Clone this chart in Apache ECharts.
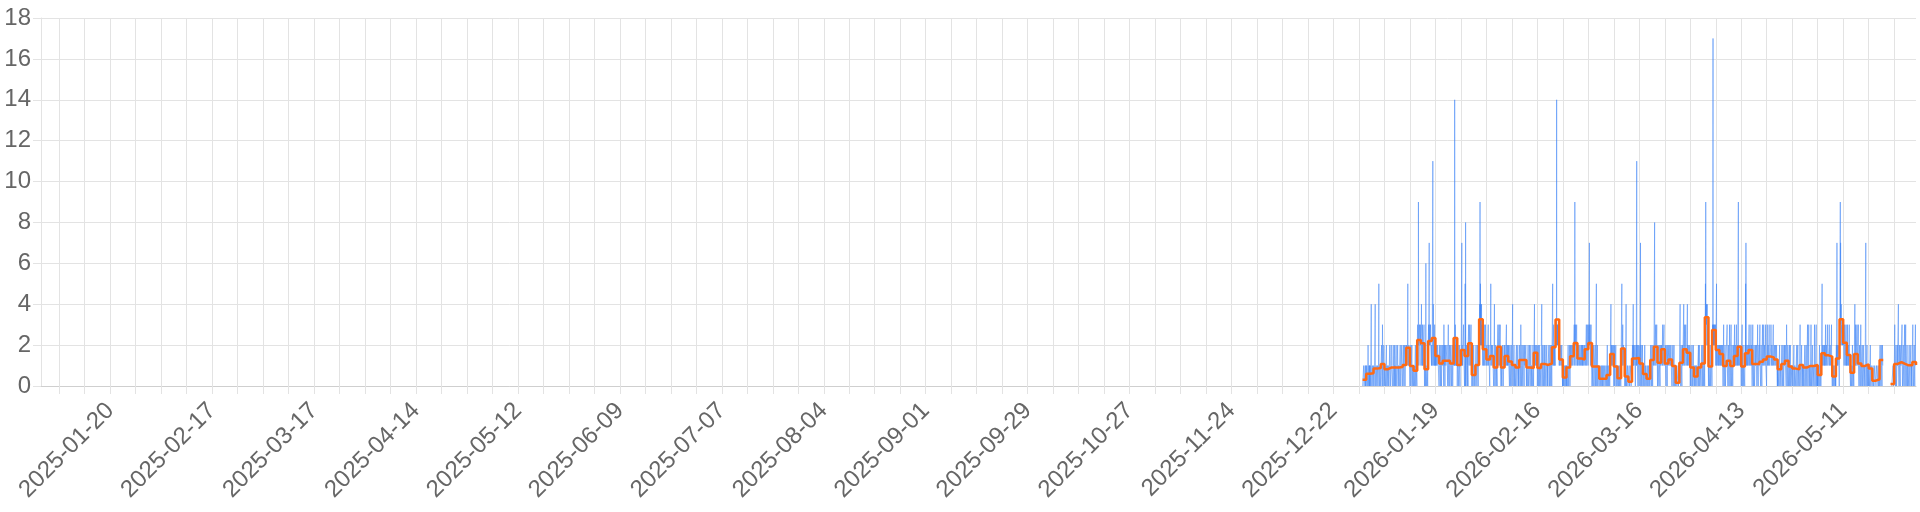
<!DOCTYPE html>
<html>
<head>
<meta charset="utf-8">
<script src="https://cdn.jsdelivr.net/npm/echarts@6/dist/echarts.min.js"></script>
<style>
html,body{margin:0;padding:0;background:#fff;}
#c{width:1920px;height:512px;}
</style>
</head>
<body>
<div id="c"></div>
<script>
// ---- DATA ----
const axisStart = '2025-01-01';
const axisEnd = '2026-05-31';
const firstWeekTick = '2025-01-06';
const lastWeekTick = '2026-05-25';
const xLabelDates = ['2025-01-20','2025-02-17','2025-03-17','2025-04-14','2025-05-12','2025-06-09','2025-07-07','2025-08-04','2025-09-01','2025-09-29','2025-10-27','2025-11-24','2025-12-22','2026-01-19','2026-02-16','2026-03-16','2026-04-13','2026-05-11'];
const yTicks = [0,2,4,6,8,10,12,14,16,18];
const dataStart = '2025-12-30';

// daily mean (orange step line), one value per day from dataStart
const dailyMean = [
0.3,0.6,0.62,0.85,0.88,1.07,0.82,0.91,0.91,0.91,
0.93,1.03,1.87,0.98,0.75,2.25,2.09,0.82,2.2,2.35,
1.47,1.1,1.24,1.24,1.1,2.35,1.03,1.76,1.47,2.09,
0.54,1.03,3.26,1.8,1.3,1.47,0.9,1.92,0.9,1.47,
1.2,1.03,0.9,1.27,1.27,0.9,0.88,1.63,0.88,1.08,
1.03,1.1,1.9,3.25,1.3,0.42,0.9,1.45,2.1,1.35,
1.3,1.8,2.1,0.95,0.95,0.35,0.35,0.54,1.57,0.95,
0.38,1.83,0.46,0.21,1.34,1.37,1.1,0.59,0.36,1.27,
1.92,1.14,1.8,1.1,1.3,0.98,0.16,1.14,1.8,1.63,
0.9,0.46,0.9,1.1,3.36,0.95,2.74,1.76,1.57,0.98,
1.24,0.98,1.47,1.92,0.95,1.6,1.76,1.08,1.08,1.19,
1.3,1.44,1.4,1.3,0.82,1.08,1.24,0.95,0.85,0.82,
1.03,0.9,0.98,0.98,1.03,0.54,1.6,1.5,1.44,0.46,
1.35,3.26,2.12,1.52,0.65,1.57,1.1,0.98,1.06,0.86,
0.26,0.33,1.27,null,null,0.1,1.08,1.17,1.08,1.01,
1.01,1.17,1.03
];

// hourly counts (blue line): one string per day, one character per hour (base-36 digit, '-' = no data)
const hourlyCounts = [
"000000011100000001100010","000111100001210000111010","001110000411100000111000","011100011114110000111100","001111000115111000111110",
"011112111003211011112110","001111100111121000111110","011110001112111000111211","111100011122100011120111","001112111000111211100111",
"110011112110001111211100","011112110111121100111211","122221112252221112222111","011111200111121100011111","001111100111210001111100",
"222322219322222322212322","222342122213222112222322","000111100611110001111000","222322272223222232222212","2212222b2142222212231222",
"112221112221111222211111","011121111011211101112111","111211103111211011122111","111122111011131110111221","011112211101111211001112",
"2212212e2213222122212212","011112111001112111011111","112222712221112223222111","011250182011112111021110","222322122232221222232122",
"000111100001211000011100","011121111001121111001112","323343923524323342322323","122222112232211222322211","111221111122311112211101",
"111225111122211112221111","001114110011121100111110","122232112222321122232221","011111001112111000111211","112221111222311112211121",
"111211110112211101112211","011114111001112110011111","001111211000111211101110","111221110113211101122111","011222111011221111112211",
"011111001112110001112111","001112110011111000121110","112224112221111222211121","001111210011121000111110","011114110111211100111211",
"011211110011112110111101","111121110111211101112110","122225112222312122222211","3233323e3323332332332333","111221111122211112211101",
"000111000011100000111010","011111001112110001111210","112221111222111122211111","222322192223222122232222","111221111122211111221111",
"111211112112221111122111","122222112223211222322211","222322272223221222322212","011111101112210011111210","011115100111210001111110",
"000011100000011100001100","000111000000111000000110","000112100011110000111000","112224112221112222111211","011121100111121100111110",
"000011100001110000011100","122225112223211222222211","000111000411000000111000","000001100000000011000000","111221114122211111221101",
"1112111b1112111011211110","011121117011211100111211","000111100011210000111100","000011100000111000001100","111221110112211101122111",
"122228112222321122232221","011121111011211110111211","112222212232212222232211","111121110111121101112111","111221111122211112211110",
"011112110011121110011111","000000110000000001000000","011114111011211110111211","122224112223211222322211","112224112221111222211121",
"011111001112110001112111","000111000011100001111000","001111201111210000111110","111121110111211101112110","323353933234333343323333",
"011111101112110011112110","222322h22322232222322322","122225112222211222221211","112222112221112222111211","011131110011121100111111",
"111311110112211101132111","011113110011211100111121","112231111222111132211121","122229112222211122222211","011111301111210001111110",
"112215172211112221111211","122232111222211232221211","011131111011211100111211","111121100111311101111211","111311110112211101113211",
"111231111122211113111110","112231111222111132211111","111232111122211112231111","111221111122211112211101","001111100111121000111110",
"011121111011211100111211","111211110113211101122111","011111201111210001111110","011111001112110001111110","001111200111121000111110",
"011131111001112111011111","011111001112110001112111","011113110011131110011111","011131100111121100111111","011311110011113110111101",
"000111100011210000111000","112225111222111122211121","112231111222111132221111","111232111122211112231111","000111000011100000111010",
"111221171122211111221101","323339373234333332323333","222322122232221222232122","112232111222111132221111","000111100011121000111100",
"112224111232111122231111","111131110111211101113110","011112110011121110011111","011117110011121100111110","011111001112110001111110",
"000001110000000011000000","000011100000001110000010","111221110112211101122111","------------------------","------------------------",
"--------0000000001100000","011131111011211100111211","111141110112111101112111","111131100111211101111311","011131110011121100111111",
"011211110011112110111101","111311110111211101113111","1"
];

// ---- BUILD ----
const DAY = 86400000, HOUR = 3600000;
function ts(s){ const p = s.split('-').map(Number); return Date.UTC(p[0], p[1]-1, p[2]); }
function fmt(t){ const d = new Date(t); const p = n => String(n).padStart(2,'0'); return d.getUTCFullYear()+'-'+p(d.getUTCMonth()+1)+'-'+p(d.getUTCDate()); }

const t0 = ts(dataStart);
const weekTicks = [];
for (let t = ts(firstWeekTick); t <= ts(lastWeekTick); t += 7*DAY) weekTicks.push(t);
const labelTicks = xLabelDates.map(ts);

const hourlyData = [];
hourlyCounts.forEach((s, d) => {
  s.slice(0,24).split('').forEach((c, h) => {
    hourlyData.push([t0 + d*DAY + h*HOUR, c === '-' ? null : parseInt(c, 36)]);
  });
});
const dailyData = dailyMean.map((v, d) => [t0 + d*DAY, v]);

const FONT = "'Liberation Sans', Arial, Helvetica, sans-serif";
const GRID = '#e3e3e3';

const chart = echarts.init(document.getElementById('c'), null, {renderer: 'canvas'});
chart.setOption({
  animation: false,
  backgroundColor: '#fff',
  grid: {left: 41, right: 4, top: 18, bottom: 126, containLabel: false, outerBoundsMode: 'none'},
  xAxis: {
    type: 'value',
    min: ts(axisStart),
    max: ts(axisEnd),
    axisLine: {show: true, lineStyle: {color: '#cfcfcf', width: 1}},
    axisTick: {show: true, length: 8, customValues: weekTicks, lineStyle: {color: GRID}},
    splitLine: {show: true, lineStyle: {color: GRID, width: 1}},
    axisLabel: {
      customValues: labelTicks,
      rotate: 45,
      margin: 21,
      color: '#666',
      fontSize: 24,
      fontFamily: FONT,
      formatter: v => fmt(v)
    }
  },
  yAxis: {
    type: 'value',
    min: yTicks[0],
    max: yTicks[yTicks.length-1],
    interval: yTicks[1]-yTicks[0],
    axisLine: {show: true, lineStyle: {color: GRID}},
    axisTick: {show: true, length: 8, lineStyle: {color: GRID}},
    splitLine: {show: true, lineStyle: {color: GRID, width: 1}},
    axisLabel: {margin: 10, color: '#666', fontSize: 24, fontFamily: FONT}
  },
  series: [
    {
      type: 'line',
      data: hourlyData,
      showSymbol: false,
      symbol: 'none',
      sampling: null,
      connectNulls: false,
      lineStyle: {color: '#3b82f6', width: 0.7, opacity: 0.75},
      z: 2,
      silent: true
    },
    {
      type: 'line',
      data: dailyData,
      step: 'end',
      showSymbol: false,
      symbol: 'none',
      connectNulls: false,
      lineStyle: {color: '#ff6a13', width: 2.5},
      z: 3,
      silent: true
    }
  ]
});
</script>
</body>
</html>
